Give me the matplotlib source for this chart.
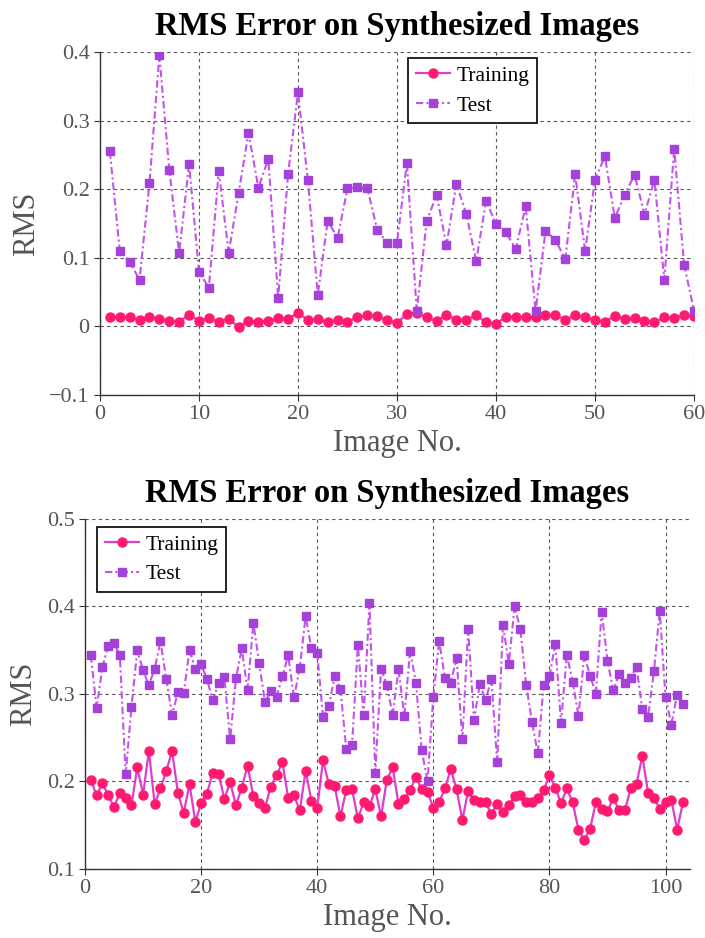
import matplotlib
matplotlib.use('Agg')
import matplotlib.pyplot as plt

# top chart: 60 images
train_top = [0.014, 0.014, 0.014, 0.009, 0.014, 0.011, 0.008, 0.007, 0.017, 0.008,
             0.012, 0.007, 0.011, -0.001, 0.008, 0.007, 0.008, 0.012, 0.011, 0.020,
             0.009, 0.011, 0.006, 0.010, 0.007, 0.013, 0.016, 0.015, 0.009, 0.005,
             0.018, 0.020, 0.013, 0.008, 0.017, 0.010, 0.010, 0.016, 0.006, 0.004,
             0.014, 0.014, 0.013, 0.014, 0.016, 0.016, 0.010, 0.016, 0.013, 0.010,
             0.007, 0.015, 0.011, 0.012, 0.008, 0.006, 0.013, 0.012, 0.017, 0.015]
test_top = [0.255, 0.110, 0.094, 0.068, 0.209, 0.395, 0.228, 0.107, 0.237, 0.080,
            0.056, 0.226, 0.107, 0.194, 0.282, 0.202, 0.244, 0.042, 0.222, 0.341,
            0.213, 0.046, 0.154, 0.129, 0.201, 0.203, 0.202, 0.141, 0.122, 0.122,
            0.238, 0.022, 0.153, 0.192, 0.118, 0.208, 0.164, 0.095, 0.183, 0.149,
            0.137, 0.113, 0.175, 0.022, 0.139, 0.126, 0.098, 0.222, 0.110, 0.214,
            0.248, 0.158, 0.192, 0.221, 0.163, 0.214, 0.068, 0.259, 0.090, 0.023]

# bottom chart: 103 images
train_bot = [0.202, 0.184, 0.198, 0.184, 0.171, 0.187, 0.181, 0.173, 0.216, 0.185,
             0.235, 0.174, 0.192, 0.212, 0.235, 0.187, 0.164, 0.197, 0.154, 0.175,
             0.186, 0.210, 0.209, 0.180, 0.199, 0.173, 0.193, 0.218, 0.183, 0.175,
             0.170, 0.194, 0.207, 0.222, 0.181, 0.184, 0.167, 0.212, 0.178, 0.170,
             0.224, 0.197, 0.195, 0.160, 0.190, 0.191, 0.158, 0.176, 0.172, 0.191,
             0.160, 0.202, 0.216, 0.174, 0.180, 0.190, 0.205, 0.191, 0.188, 0.170,
             0.176, 0.192, 0.214, 0.191, 0.156, 0.189, 0.179, 0.176, 0.176, 0.163,
             0.174, 0.165, 0.173, 0.183, 0.184, 0.176, 0.177, 0.181, 0.190, 0.207,
             0.193, 0.175, 0.192, 0.176, 0.145, 0.133, 0.146, 0.176, 0.168, 0.166,
             0.181, 0.167, 0.167, 0.192, 0.197, 0.229, 0.187, 0.181, 0.169, 0.176,
             0.179, 0.145, 0.176]
test_bot = [0.344, 0.284, 0.331, 0.355, 0.358, 0.344, 0.208, 0.285, 0.350, 0.327,
            0.310, 0.329, 0.360, 0.317, 0.276, 0.302, 0.301, 0.350, 0.329, 0.334,
            0.317, 0.293, 0.312, 0.319, 0.248, 0.318, 0.352, 0.304, 0.381, 0.335,
            0.291, 0.303, 0.297, 0.320, 0.344, 0.296, 0.330, 0.389, 0.352, 0.347,
            0.274, 0.286, 0.320, 0.306, 0.237, 0.242, 0.356, 0.276, 0.404, 0.210,
            0.329, 0.310, 0.276, 0.328, 0.275, 0.349, 0.313, 0.236, 0.200, 0.297,
            0.361, 0.318, 0.313, 0.341, 0.248, 0.374, 0.270, 0.311, 0.293, 0.317,
            0.222, 0.379, 0.334, 0.400, 0.374, 0.310, 0.268, 0.232, 0.310, 0.320,
            0.357, 0.267, 0.345, 0.314, 0.275, 0.344, 0.321, 0.300, 0.394, 0.338,
            0.304, 0.323, 0.313, 0.318, 0.331, 0.283, 0.274, 0.326, 0.395, 0.296,
            0.265, 0.299, 0.288]

top_xticks = [0, 10, 20, 30, 40, 50, 60]
top_yticks = [-0.1, 0, 0.1, 0.2, 0.3, 0.4]
top_ylabels = ['\u22120.1', '0', '0.1', '0.2', '0.3', '0.4']
bot_xticks = [0, 20, 40, 60, 80, 100]
bot_yticks = [0.1, 0.2, 0.3, 0.4, 0.5]
bot_ylabels = ['0.1', '0.2', '0.3', '0.4', '0.5']

plt.rcParams['font.family'] = ['Liberation Serif', 'DejaVu Serif']

GRAY = '#555555'


def draw(ax, train, test, xticks, yticks, ylabels, xlim, ylim, legend_anchor):
    xs_tr = range(1, len(train) + 1)
    xs_te = range(1, len(test) + 1)
    ax.plot(xs_tr, train, '-o', color='#e03cd0', lw=1.6, ms=6.5,
            mfc='#ff1a70', mec='#ff1a70', label='Training', zorder=3)
    ax.plot(xs_te, test, linestyle=(0, (3.5, 1.5, 1, 1.5)), marker='s',
            color='#c452ec', lw=1.5, ms=5.5,
            mfc='#a441d8', mec='#a441d8', label='Test', zorder=4)
    ax.set_xlim(*xlim)
    ax.set_ylim(*ylim)
    ax.set_xticks(xticks)
    ax.set_xticklabels([str(t) for t in xticks])
    ax.set_yticks(yticks)
    ax.set_yticklabels(ylabels)
    ax.grid(True, color='#555555', linestyle=(0, (3, 3)), lw=0.8)
    ax.set_axisbelow(True)
    for s in ('top', 'right'):
        ax.spines[s].set_visible(False)
    for s in ('left', 'bottom'):
        ax.spines[s].set_color('#333333')
        ax.spines[s].set_linewidth(1.0)
    ax.tick_params(direction='out', length=4, colors='#333333', labelcolor=GRAY,
                   labelsize=16)
    ax.set_xlabel('Image No.', fontsize=22, color=GRAY, labelpad=3)
    ax.set_ylabel('RMS', fontsize=22, color=GRAY, labelpad=6)
    ax.set_title('RMS Error on Synthesized Images', fontsize=23.5, fontweight='bold',
                 pad=12)
    leg = ax.legend(loc='upper left', bbox_to_anchor=legend_anchor, borderaxespad=0,
                    fontsize=15.5, fancybox=False, edgecolor='black',
                    handlelength=1.6, handletextpad=0.3, borderpad=0.35,
                    labelspacing=0.45, framealpha=1)
    leg.get_frame().set_linewidth(1.2)


fig = plt.figure(figsize=(7.05, 9.38), dpi=100)
ax1 = fig.add_axes([0.1418, 0.5789, 0.8426, 0.3657])
draw(ax1, train_top, test_top, top_xticks, top_yticks, top_ylabels,
     (0, 60), (-0.1, 0.4), (0.519, 0.982))
ax2 = fig.add_axes([0.1206, 0.0736, 0.858, 0.3731])
draw(ax2, train_bot, test_bot, bot_xticks, bot_yticks, bot_ylabels,
     (0, 104.2), (0.1, 0.5), (0.02, 0.977))

fig.savefig('out.png', dpi=100)
